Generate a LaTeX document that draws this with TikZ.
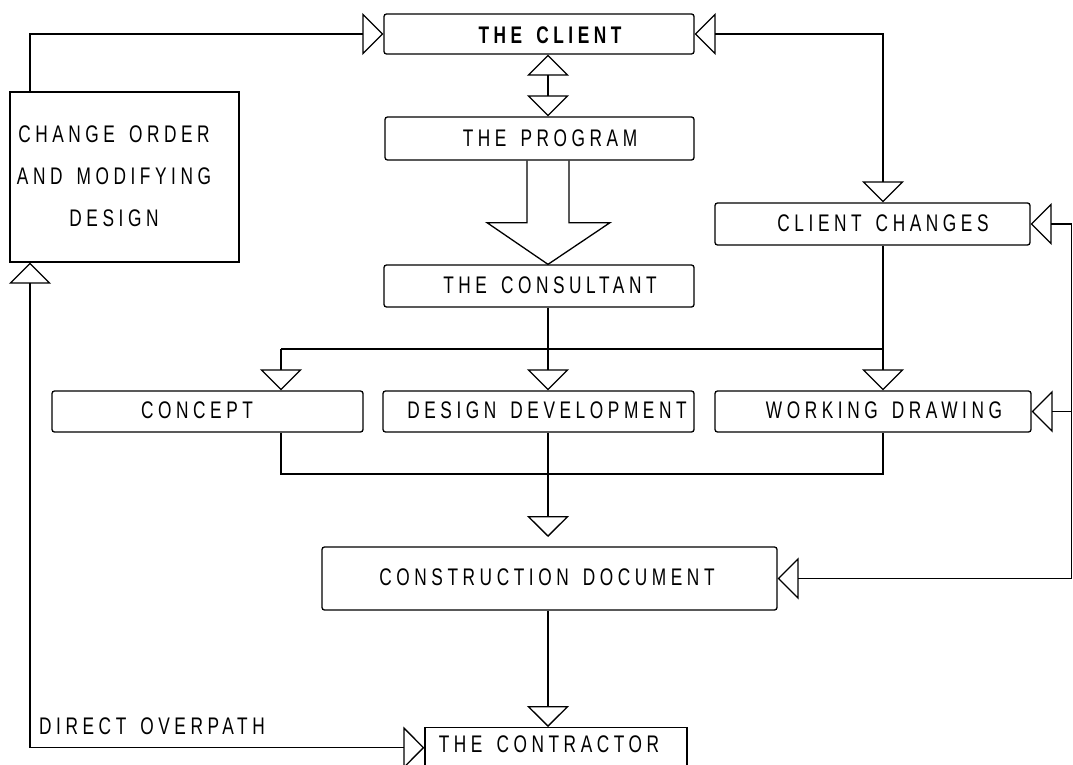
\documentclass[tikz,border=0pt]{standalone}
\usepackage{fontspec}
\setmainfont{Liberation Sans}[FakeStretch=0.72,LetterSpace=19,WordSpace=1.5]
\usetikzlibrary{arrows.meta,calc}
\begin{document}
\begin{tikzpicture}[x=1pt,y=-1pt,
  line width=1.3pt,
  box/.style={draw, rounded corners=2.5pt, inner sep=0pt},
  lbl/.style={inner sep=0pt, font=\fontsize{24}{42}\selectfont},
  tri/.style={-{Triangle[open,length=21pt,width=42pt]}},
  tritri/.style={{Triangle[open,length=21pt,width=42pt]}-{Triangle[open,length=21pt,width=42pt]}}]
\useasboundingbox (0,0) rectangle (1073,765);
\clip (0,0) rectangle (1073,765);

% axes
\coordinate (ax) at (548,0);
\coordinate (lx) at (30,0);
\coordinate (cx) at (281,0);
\coordinate (wx) at (883,0);
\coordinate (redge) at (1071.5,0);

% boxes
\node[box, minimum width=310pt, minimum height=40pt] (client) at (539,34) {};
\node[box, rounded corners=0pt, minimum width=229pt, minimum height=170pt] (change) at (124.5,177) {};
\node[box, minimum width=309pt, minimum height=43pt] (program) at (539.5,138.5) {};
\node[box, minimum width=310pt, minimum height=42pt] (consultant) at (539,286) {};
\node[box, minimum width=315pt, minimum height=42pt] (changes) at (872.5,224) {};
\node[box, minimum width=311pt, minimum height=41pt] (concept) at (207.5,411.5) {};
\node[box, minimum width=311pt, minimum height=41pt] (design) at (538.5,411.5) {};
\node[box, minimum width=316pt, minimum height=41pt] (working) at (873,411.5) {};
\node[box, minimum width=455pt, minimum height=63pt] (construction) at (549.5,578.5) {};
\node[box, rounded corners=0pt, minimum width=262pt, minimum height=40pt, anchor=north] (contractor) at (556,727) {};

% labels
\node[lbl, font=\fontsize{24}{42}\selectfont\bfseries] (tclient) at (550,35) {THE CLIENT};
\node[lbl, align=center] (tchange) at (114,176.5) {CHANGE ORDER\\AND MODIFYING\\DESIGN};
\node[lbl] (tprogram) at (550,138.5) {THE PROGRAM};
\node[lbl] (tconsultant) at (550,285.5) {THE CONSULTANT};
\node[lbl] (tchanges) at (883,223.5) {CLIENT CHANGES};
\node[lbl] (tconcept) at (197,410.5) {CONCEPT};
\node[lbl] (tdesign) at (547,410.5) {DESIGN DEVELOPMENT};
\node[lbl] (tworking) at (884,410.5) {WORKING DRAWING};
\node[lbl] (tconstruction) at (547,577.5) {CONSTRUCTION DOCUMENT};
\node[lbl] (tcontractor) at (549,744) {THE CONTRACTOR};
\node[lbl] (tdirect) at (152,726) {DIRECT OVERPATH};

% left loops
\draw[tri] ($(change.north -| lx)$) |- (client.west);
\draw[tritri] ($(change.south -| lx)$) |- (contractor.west);

% client <-> client changes
\draw[tritri] (client.east) -| (changes.north -| wx);

% client <-> program
\draw[tritri] (client.south -| ax) -- (program.north -| ax);

% big arrow program -> consultant
\draw[line join=miter] ($(program.south -| ax)+(-21,0)$) -- ++(0,62) -- ++(-40,0)
  -- (consultant.north -| ax) -- ($(program.south -| ax)+(62,62)$) -- ++(-41,0) -- ($(program.south -| ax)+(21,0)$);

% branches to the row
\coordinate (b1) at (281,349);
\coordinate (b2) at (883,349);
\draw (b1) -- (b2);
\draw[tri] (b1) -- (concept.north -| cx);
\draw[tri] (consultant.south -| ax) -- (design.north -| ax);
\draw[tri] (changes.south -| wx) -- (working.north -| wx);

% merge to construction
\coordinate (m1) at (281,474);
\coordinate (m2) at (883,474);
\draw (concept.south -| cx) -- (m1) -- (m2) -- (working.south -| wx);
\coordinate (cd) at (548,537);
\draw[tri] (design.south -| ax) -- (cd);

% construction -> contractor
\draw[tri] (construction.south -| ax) -- (contractor.north -| ax);

% right feedback line
\draw (changes.east -| redge) -- (construction.east -| redge);
\draw[tri] (changes.east -| redge) -- (changes.east);
\draw[tri] (working.east -| redge) -- (working.east);
\draw[tri] (construction.east -| redge) -- (construction.east);
\end{tikzpicture}
\end{document}
